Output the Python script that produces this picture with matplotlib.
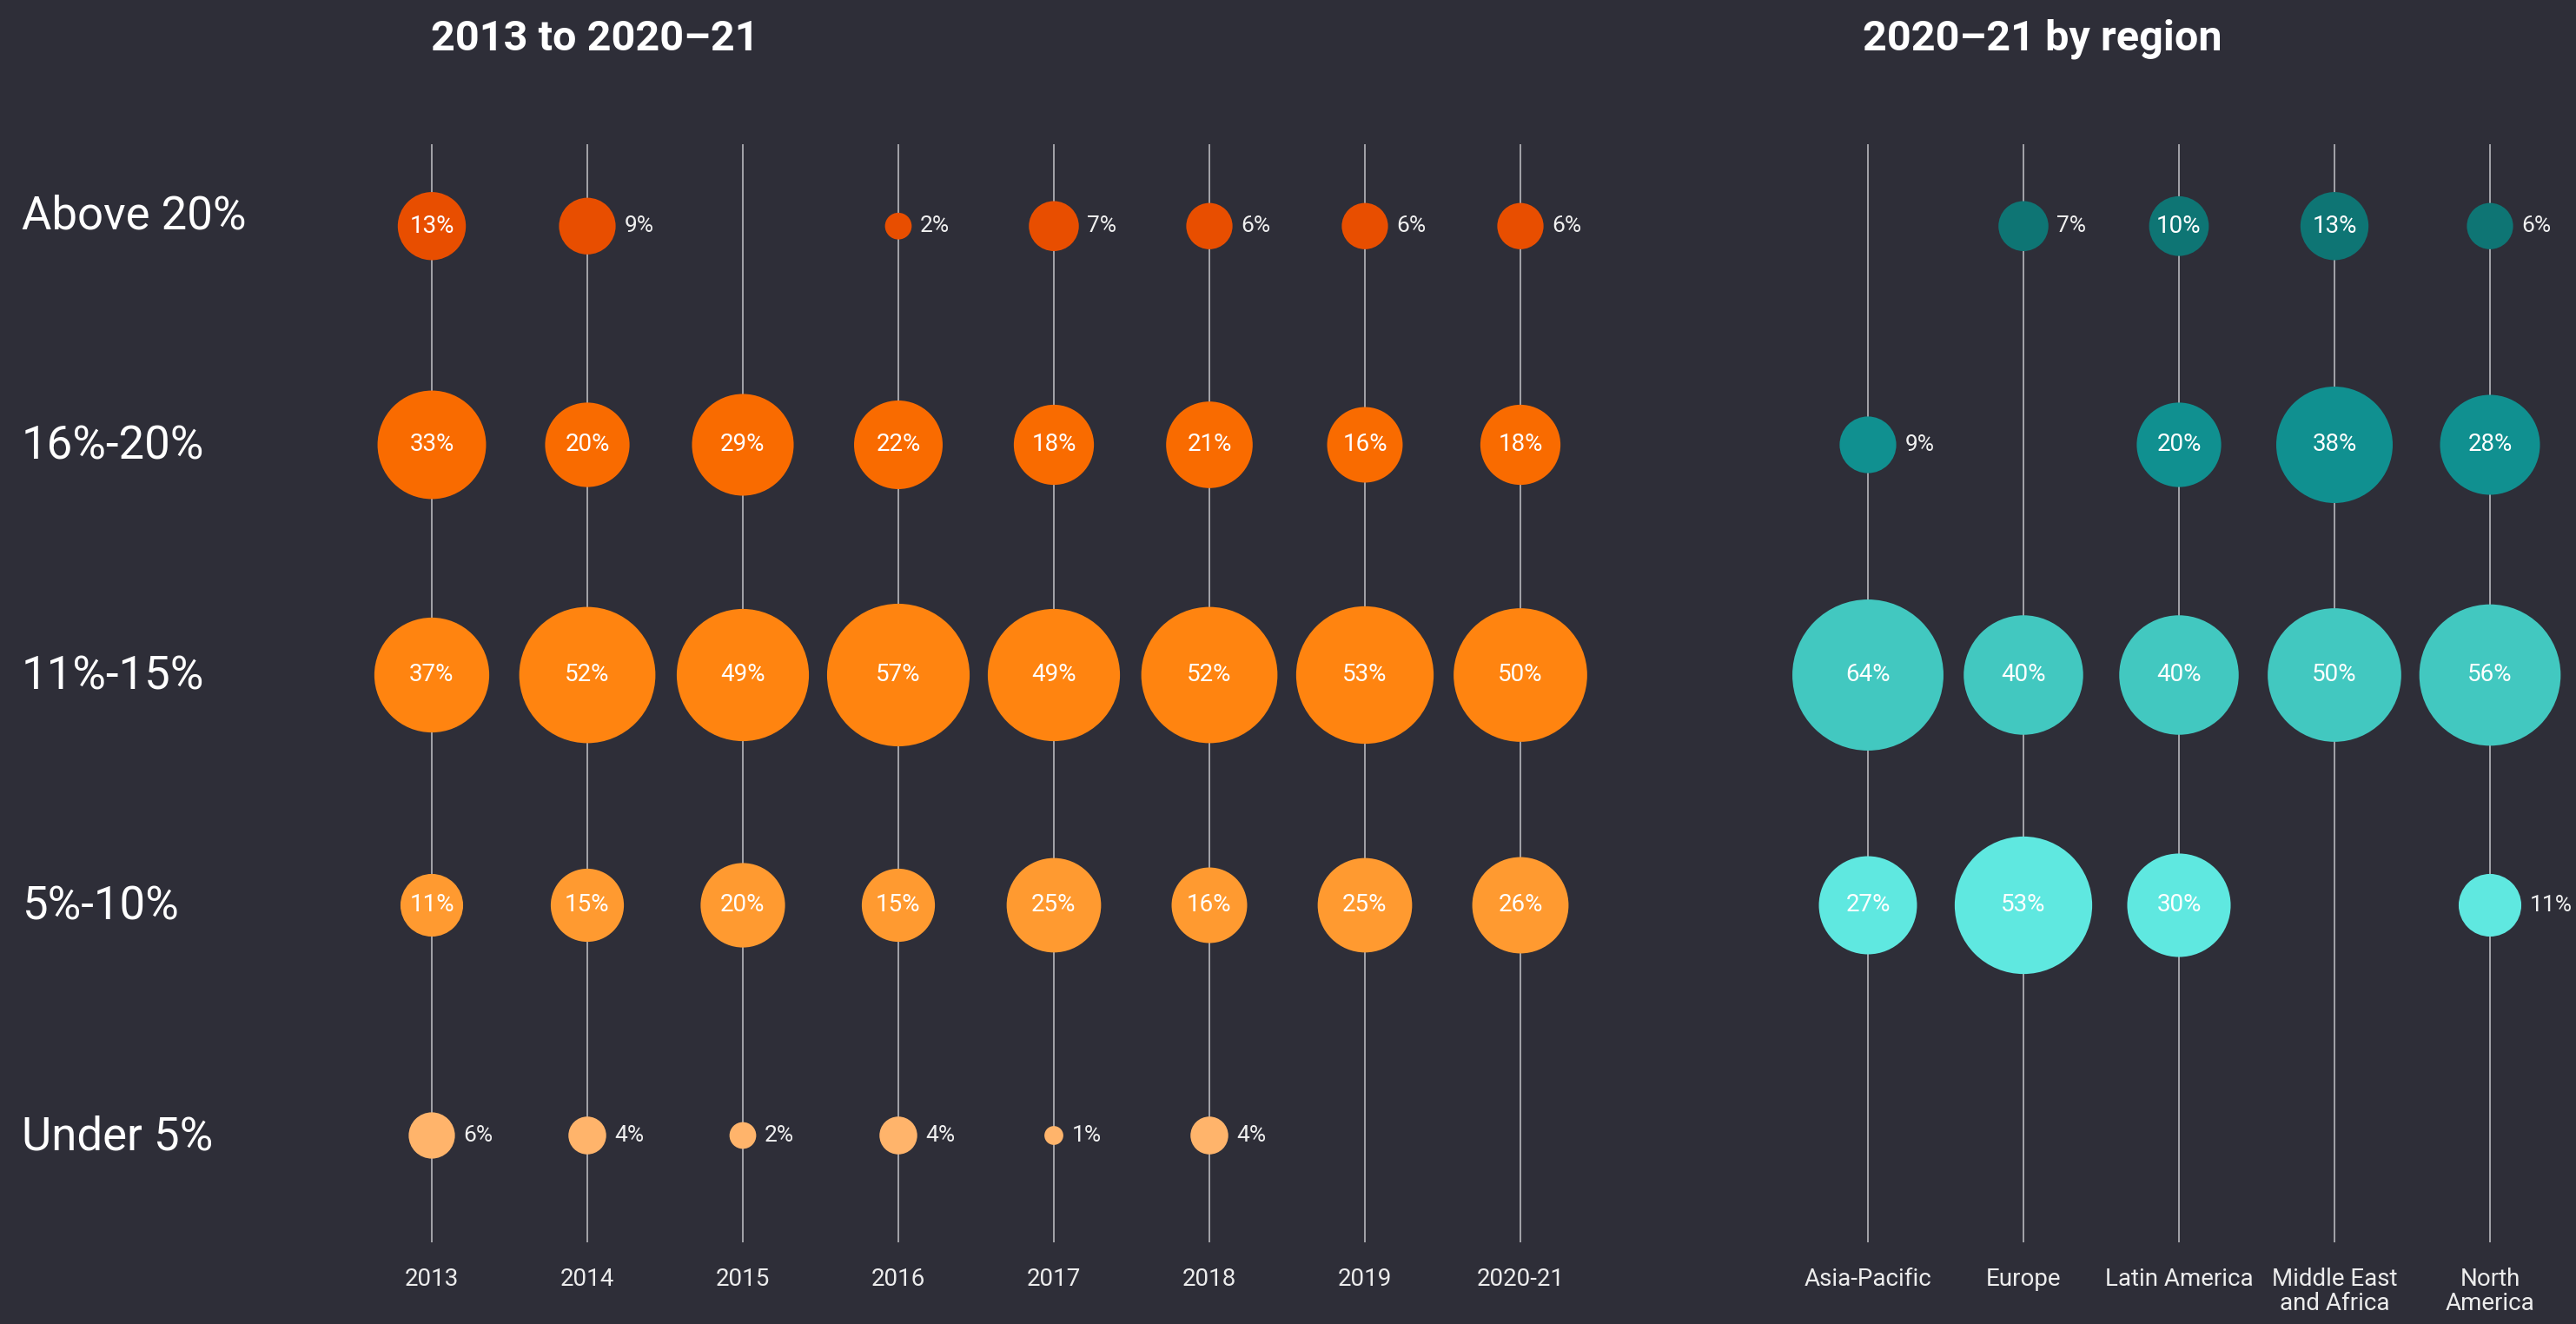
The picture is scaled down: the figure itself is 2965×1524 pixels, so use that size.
import matplotlib
matplotlib.use("Agg")
import matplotlib.pyplot as plt
import numpy as np

plt.rcParams["font.family"] = ["Roboto", "DejaVu Sans"]

# rows, top to bottom
bands = ["Above 20%", "16%-20%", "11%-15%", "5%-10%", "Under 5%"]

years = ["2013", "2014", "2015", "2016", "2017", "2018", "2019", "2020-21"]
years_above20 = [13, 9, None, 2, 7, 6, 6, 6]
years_16_20 = [33, 20, 29, 22, 18, 21, 16, 18]
years_11_15 = [37, 52, 49, 57, 49, 52, 53, 50]
years_5_10 = [11, 15, 20, 15, 25, 16, 25, 26]
years_under5 = [6, 4, 2, 4, 1, 4, None, None]

regions = ["Asia-Pacific", "Europe", "Latin America", "Middle East\nand Africa", "North\nAmerica"]
regions_above20 = [None, 7, 10, 13, 6]
regions_16_20 = [9, None, 20, 38, 28]
regions_11_15 = [64, 40, 40, 50, 56]
regions_5_10 = [27, 53, 30, None, 11]
regions_under5 = [None, None, None, None, None]

# labels that sit beside the bubble even though the value is >= 10
outside_extra = {("North\nAmerica", "5%-10%")}

BG = "#2e2e38"
orange = ["#e84e00", "#f96b00", "#ff8410", "#ff9a30", "#ffb46b"]
teal = ["#0e7574", "#109090", "#42c8c0", "#5fe8e0", "#8ff0ea"]

# vertical slot of each band in the axes (top row sits a bit lower)
row_y = [3.95, 3, 2, 1, 0]

W, H = 2965, 1524
fig = plt.figure(figsize=(W / 100, H / 100), dpi=100, facecolor=BG)

ROW_PX = 265
Y0 = 1307  # pixel y of bottom row
COL_PX = 179


def make_axes(x_first_px, ncols):
    left = (x_first_px - 0.5 * COL_PX) / W
    width = ncols * COL_PX / W
    top_px = Y0 - 4.5 * ROW_PX
    bottom_px = Y0 + 0.5 * ROW_PX
    ax = fig.add_axes([left, 1 - bottom_px / H, width, (bottom_px - top_px) / H])
    ax.set_xlim(-0.5, ncols - 0.5)
    ax.set_ylim(-0.5, 4.5)
    ax.set_facecolor(BG)
    for s in ax.spines.values():
        s.set_visible(False)
    ax.set_yticks([])
    return ax


def draw_panel(ax, cats, series, colors):
    n = len(cats)
    xs = np.arange(n)
    y_top = (Y0 - 166) / ROW_PX
    y_bot = (Y0 - 1430) / ROW_PX
    ax.vlines(xs, y_bot, y_top, color="#c4c4c8", lw=1.1, zorder=1)
    for r, (band, vals) in enumerate(zip(bands, series)):
        y = row_y[r]
        for i, v in enumerate(vals):
            if v is None:
                continue
            size = 245 * v
            ax.scatter(i, y, s=size, color=colors[r], edgecolors="none", zorder=2)
            if v >= 10 and (cats[i], band) not in outside_extra:
                ax.text(i, y, f"{v}%", ha="center", va="center", color="white",
                        fontsize=20, zorder=3)
            else:
                rad = np.sqrt(size) / 2
                ax.annotate(f"{v}%", (i, y), xytext=(rad + 7, 0),
                            textcoords="offset points", ha="left", va="center",
                            color="#f0f0f0", fontsize=19)
    ax.set_xticks(xs)
    ax.set_xticklabels(cats, color="#ececec", fontsize=20, linespacing=1.05)
    ax.tick_params(axis="x", length=0, pad=14)


ax1 = make_axes(497, len(years))
draw_panel(ax1, years,
           [years_above20, years_16_20, years_11_15, years_5_10, years_under5],
           orange)

ax2 = make_axes(2150, len(regions))
draw_panel(ax2, regions,
           [regions_above20, regions_16_20, regions_11_15, regions_5_10, regions_under5],
           teal)

for r, band in enumerate(bands):
    y_px = 249 + r * ROW_PX
    fig.text(25 / W, 1 - y_px / H, band, ha="left", va="center", color="white",
             fontsize=38)

fig.text(685 / W, 1 - 45 / H, "2013 to 2020\u201321", ha="center", va="center",
         color="white", fontsize=35, fontweight="bold")
fig.text(2351 / W, 1 - 45 / H, "2020\u201321 by region", ha="center", va="center",
         color="white", fontsize=35, fontweight="bold")

fig.savefig("out.png", dpi=100, facecolor=BG)
